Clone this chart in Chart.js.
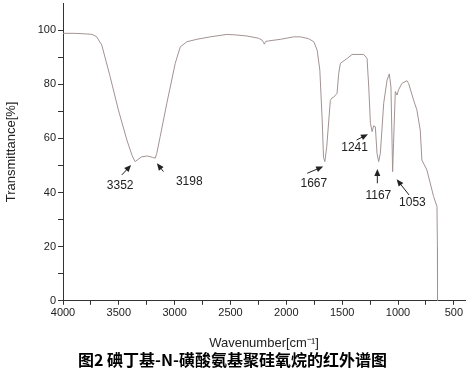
<!DOCTYPE html>
<html lang="zh">
<head>
    <meta charset="UTF-8">
    <title>红外谱图</title>
    <script src="https://cdn.jsdelivr.net/npm/chart.js"></script>
    <style>
        body { margin: 0; background: #fff; }
        #grafico { display: block; }
    </style>
</head>
<body>
    <canvas id="grafico" width="467" height="373"></canvas>
<script>
    // espectro (número de onda em cm-1, transmitância em %)
    var numero_onda = [4000, 3900, 3800, 3740, 3700, 3653, 3578, 3504, 3428, 3380, 3354, 3320, 3294, 3244, 3200,
        3174, 3160, 3130, 3070, 2995, 2950, 2890, 2800, 2681, 2532, 2450, 2352, 2250, 2218, 2205, 2197, 2185,
        2158, 2050, 1934, 1873, 1800, 1754, 1724, 1700, 1679, 1667, 1655, 1638, 1606, 1590, 1576, 1546, 1531,
        1516, 1456, 1411, 1307, 1277, 1262, 1247, 1232, 1218, 1203, 1188, 1173, 1158, 1128, 1098, 1078, 1063,
        1048, 1040, 1033, 1024, 1009, 995, 965, 920, 905, 861, 831, 801, 786, 741, 681, 651, 647, 646];
    var transmitancia = [98.8, 98.8, 98.6, 98.4, 97.6, 94.5, 82.8, 70.5, 59.4, 53.5, 51.4, 52.5, 53.2, 53.5, 53.0,
        52.7, 54.5, 60.6, 73, 87.7, 93.8, 95.7, 96.6, 97.5, 98.4, 98.2, 97.8, 97.0, 96.3, 95.5, 94.8, 95.8,
        96, 96.6, 97.5, 97.5, 96.8, 95.7, 92.6, 85.2, 66.8, 53, 51.4, 57, 74, 75, 75.2, 76.6, 84,
        87.7, 89.5, 91, 91, 89.5, 79, 65.6, 62.5, 64.6, 64.3, 54.5, 51.4, 54.5, 73, 81.5, 83.8, 79,
        47.7, 58, 66.8, 77.3, 76, 77.9, 80.3, 81.3, 80.3, 74.2, 70.5, 63.1, 52, 48.3, 38.5, 34.8, 20, 0];

    var ticks_x = [4000, 3750, 3500, 3250, 3000, 2750, 2500, 2250, 2000, 1750, 1500, 1250, 1000, 750, 500];
    var ticks_y = [0, 10, 20, 30, 40, 50, 60, 70, 80, 90, 100];

    // picos marcados: texto, posição do texto e seta (em coordenadas dos eixos)
    var picos = ['3352', '3198', '1667', '1241', '1167', '1053'];
    var texto_x = [3488, 2869, 1754, 1389, 1176, 871];
    var texto_y = [42.5, 44, 43.4, 56.6, 38.7, 36.3];
    var seta_de = [[3473, 46.5], [3100, 47.7], [1813, 47.1], [1371, 59.4], [1185, 43.4], [901, 39.1]];
    var seta_para = [[3390, 50.2], [3159, 50.8], [1670, 49.6], [1269, 61.5], [1185, 48.7], [1012, 44.9]];

    var pontos = [];
    for (var i = 0; i < numero_onda.length; i++) {
        pontos.push({ x: numero_onda[i], y: transmitancia[i] });
    }

    const marcadores = {
        id: 'marcadores',
        afterDatasetsDraw(chart) {
            const ctx = chart.ctx;
            const sx = chart.scales.x, sy = chart.scales.y;
            ctx.save();
            ctx.fillStyle = '#222';
            ctx.strokeStyle = '#222';
            ctx.font = '12px "Liberation Sans", Arial, sans-serif';
            ctx.textAlign = 'center';
            ctx.textBaseline = 'middle';
            for (let i = 0; i < picos.length; i++) {
                ctx.fillText(picos[i], sx.getPixelForValue(texto_x[i]), sy.getPixelForValue(texto_y[i]));
                const x1 = sx.getPixelForValue(seta_de[i][0]), y1 = sy.getPixelForValue(seta_de[i][1]);
                const x2 = sx.getPixelForValue(seta_para[i][0]), y2 = sy.getPixelForValue(seta_para[i][1]);
                const ang = Math.atan2(y2 - y1, x2 - x1);
                ctx.lineWidth = 1;
                ctx.beginPath();
                ctx.moveTo(x1, y1);
                ctx.lineTo(x2 - 4 * Math.cos(ang), y2 - 4 * Math.sin(ang));
                ctx.stroke();
                ctx.beginPath();
                ctx.moveTo(x2, y2);
                ctx.lineTo(x2 - 7 * Math.cos(ang) + 3 * Math.sin(ang), y2 - 7 * Math.sin(ang) - 3 * Math.cos(ang));
                ctx.lineTo(x2 - 7 * Math.cos(ang) - 3 * Math.sin(ang), y2 - 7 * Math.sin(ang) + 3 * Math.cos(ang));
                ctx.closePath();
                ctx.fill();
            }
            ctx.restore();
        }
    };

    const fonte = '"Liberation Sans", Arial, sans-serif';

    const chart = new Chart('grafico', {
        type: 'scatter',
        data: {
            datasets: [{
                label: 'IR',
                data: pontos,
                showLine: true,
                borderColor: '#a39393',
                borderWidth: 1,
                pointRadius: 0,
                tension: 0
            }]
        },
        options: {
            responsive: false,
            animation: false,
            layout: { padding: { left: 0, right: 2, top: 3, bottom: 0 } },
            plugins: {
                legend: { display: false },
                tooltip: { enabled: false },
                title: {
                    display: true,
                    position: 'bottom',
                    text: '图2 碘丁基-N-磺酸氨基聚硅氧烷的红外谱图',
                    color: '#000',
                    font: { family: '"Noto Sans CJK SC"', size: 16, weight: 'bold' },
                    padding: { top: 0, bottom: 3 }
                }
            },
            scales: {
                x: {
                    type: 'linear',
                    reverse: true,
                    min: 400,
                    max: 4000,
                    afterBuildTicks: s => { s.ticks = ticks_x.map(v => ({ value: v })); },
                    afterFit: s => { s.height = 50; s.paddingLeft = 0; s.paddingRight = 0; },
                    grid: { drawOnChartArea: false, drawTicks: true, tickLength: 4, color: '#333' },
                    border: { display: true, color: '#333' },
                    ticks: {
                        color: '#222',
                        font: { family: fonte, size: 11 },
                        padding: 2,
                        maxRotation: 0,
                        autoSkip: false,
                        callback: v => (v % 500 === 0 ? v : '')
                    },
                    title: {
                        display: true,
                        text: 'Wavenumber[cm⁻¹]',
                        color: '#222',
                        font: { family: fonte, size: 13 },
                        padding: { top: 2, bottom: 0 }
                    }
                },
                y: {
                    min: 0,
                    max: 110,
                    afterBuildTicks: s => { s.ticks = ticks_y.map(v => ({ value: v })); },
                    afterFit: s => { s.width = 63; s.paddingTop = 0; s.paddingBottom = 0; },
                    grid: { drawOnChartArea: false, drawTicks: true, tickLength: 5, color: '#333' },
                    border: { display: true, color: '#333' },
                    ticks: {
                        color: '#222',
                        font: { family: fonte, size: 11 },
                        padding: 2,
                        autoSkip: false,
                        callback: v => (v % 20 === 0 ? v : '')
                    },
                    title: {
                        display: true,
                        text: 'Transmittance[%]',
                        color: '#222',
                        font: { family: fonte, size: 13 },
                        padding: { top: 4, bottom: 0 }
                    }
                }
            }
        },
        plugins: [marcadores]
    });
</script>
</body>
</html>
